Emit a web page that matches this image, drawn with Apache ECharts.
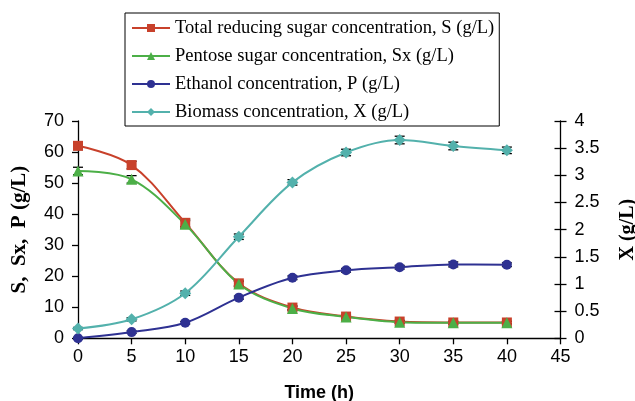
<!DOCTYPE html>
<html><head><meta charset="utf-8">
<script src="https://cdn.jsdelivr.net/npm/echarts@6/dist/echarts.min.js"></script>
<style>html,body{margin:0;padding:0;background:#fff}#c{width:635px;height:401px}</style>
</head><body><div id="c"></div>
<script>
var time = [0, 5, 10, 15, 20, 25, 30, 35, 40];
var sugarS = [62.0, 55.8, 37.2, 17.7, 9.9, 7.0, 5.4, 5.1, 5.1];
var pentoseSx = [53.9, 51.2, 36.7, 17.5, 9.6, 6.9, 5.2, 5.0, 5.0];
var ethanolP = [0.0, 2.0, 5.0, 13.1, 19.5, 21.9, 22.9, 23.8, 23.7];
var biomassX = [0.18, 0.35, 0.83, 1.87, 2.87, 3.42, 3.65, 3.54, 3.46];
var errS = [1.2, 1.2, 1.2, 0.8, 0.6, 0.5, 0.4, 0.4, 0.4];
var errSx = [1.2, 1.2, 1.2, 0.8, 0.6, 0.5, 0.4, 0.4, 0.4];
var errP = [0.3, 0.4, 0.4, 0.5, 0.6, 0.6, 0.6, 0.8, 0.6];
var errX = [0.02, 0.03, 0.04, 0.05, 0.05, 0.06, 0.07, 0.07, 0.06];
var leftTicks = [0, 10, 20, 30, 40, 50, 60, 70];
var rightTicks = [0, 0.5, 1, 1.5, 2, 2.5, 3, 3.5, 4];
var xTicks = [0, 5, 10, 15, 20, 25, 30, 35, 40, 45];

var names = ['Total reducing sugar concentration, S (g/L)', 'Pentose sugar concentration, Sx (g/L)', 'Ethanol concentration, P (g/L)', 'Biomass concentration, X (g/L)'];
var colors = ['#C8412B', '#4CAF47', '#2E3192', '#53B1AC'];

function pairs(v) { return time.map(function (t, i) { return [t, v[i]]; }); }
function errData(v, e) { return time.map(function (t, i) { return [t, v[i] - e[i], v[i] + e[i]]; }); }

function errSeries(v, e, yi) {
  return {
    type: 'custom', yAxisIndex: yi, z: 1, silent: true,
    data: errData(v, e),
    renderItem: function (params, api) {
      var x = api.value(0), lo = api.value(1), hi = api.value(2);
      var p1 = api.coord([x, lo]), p2 = api.coord([x, hi]);
      var w = 5;
      var st = { stroke: '#000', lineWidth: 1.3 };
      return { type: 'group', children: [
        { type: 'line', shape: { x1: p1[0], y1: p1[1], x2: p2[0], y2: p2[1] }, style: st },
        { type: 'line', shape: { x1: p1[0] - w, y1: p1[1], x2: p1[0] + w, y2: p1[1] }, style: st },
        { type: 'line', shape: { x1: p2[0] - w, y1: p2[1], x2: p2[0] + w, y2: p2[1] }, style: st }
      ] };
    }
  };
}

function lineSeries(i, v, yi, symbol, size) {
  return {
    name: names[i], type: 'line', yAxisIndex: yi, z: 3, smooth: 0.35,
    data: pairs(v), symbol: symbol, symbolSize: size,
    lineStyle: { color: colors[i], width: 2 },
    itemStyle: { color: colors[i] }
  };
}

var axisLabelStyle = { color: '#000', fontFamily: 'Liberation Sans', fontSize: 18 };
var chart = echarts.init(document.getElementById('c'), null, { renderer: 'canvas' });
chart.setOption({
  animation: false,
  backgroundColor: '#fff',
  grid: { left: 78, right: 74.5, top: 121, bottom: 62.7, containLabel: false, outerBoundsMode: 'none' },
  legend: {
    orient: 'vertical', left: 125, top: 13,
    data: names,
    backgroundColor: '#fff', borderColor: '#000', borderWidth: 1,
    padding: [5, 5, 4, 6], itemGap: 8, itemWidth: 38, itemHeight: 10,
    textStyle: { fontFamily: 'Liberation Serif', fontSize: 18.5, color: '#000', lineHeight: 20 }
  },
  xAxis: {
    type: 'value', min: 0, max: 45, interval: 5,
    name: 'Time (h)', nameLocation: 'middle', nameGap: 46,
    nameTextStyle: { fontFamily: 'Liberation Sans', fontWeight: 'bold', fontSize: 18, color: '#000' },
    axisLine: { onZero: false, lineStyle: { color: '#000', width: 1.3 } },
    axisTick: { show: true, length: 6, lineStyle: { color: '#000', width: 1.3 } },
    axisLabel: Object.assign({ margin: 10, formatter: function (v) { return xTicks.indexOf(v) >= 0 ? String(v) : ''; } }, axisLabelStyle),
    splitLine: { show: false }
  },
  yAxis: [
    {
      type: 'value', min: 0, max: 70, interval: 10, position: 'left',
      name: 'S,  Sx,  P (g/L)', nameLocation: 'middle', nameGap: 48, nameRotate: 90,
      nameTextStyle: { fontFamily: 'Liberation Serif', fontWeight: 'bold', fontSize: 21, color: '#000' },
      axisLine: { show: true, lineStyle: { color: '#000', width: 1.3 } },
      axisTick: { show: true, length: 6, lineStyle: { color: '#000', width: 1.3 } },
      axisLabel: Object.assign({ margin: 14, formatter: function (v) { return leftTicks.indexOf(v) >= 0 ? String(v) : ''; } }, axisLabelStyle),
      splitLine: { show: false }
    },
    {
      type: 'value', min: 0, max: 4, interval: 0.5, position: 'right',
      name: 'X (g/L)', nameLocation: 'middle', nameGap: 57, nameRotate: 90,
      nameTextStyle: { fontFamily: 'Liberation Serif', fontWeight: 'bold', fontSize: 20, color: '#000' },
      axisLine: { show: true, lineStyle: { color: '#000', width: 1.3 } },
      axisTick: { show: true, length: 6, lineStyle: { color: '#000', width: 1.3 } },
      axisLabel: Object.assign({ margin: 14, formatter: function (v) { return rightTicks.indexOf(v) >= 0 ? String(v) : ''; } }, axisLabelStyle),
      splitLine: { show: false }
    },
    {
      type: 'value', min: 0, max: 4, interval: 0.5, position: 'right',
      axisLine: { show: false },
      axisTick: { show: true, inside: true, length: 6, lineStyle: { color: '#000', width: 1.3 } },
      axisLabel: { show: false },
      splitLine: { show: false }
    }
  ],
  series: [
    errSeries(sugarS, errS, 0),
    errSeries(pentoseSx, errSx, 0),
    errSeries(ethanolP, errP, 0),
    errSeries(biomassX, errX, 1),
    lineSeries(0, sugarS, 0, 'rect', 10),
    lineSeries(1, pentoseSx, 0, 'triangle', 11),
    lineSeries(2, ethanolP, 0, 'circle', 10),
    lineSeries(3, biomassX, 1, 'diamond', 12)
  ]
});
</script></body></html>
